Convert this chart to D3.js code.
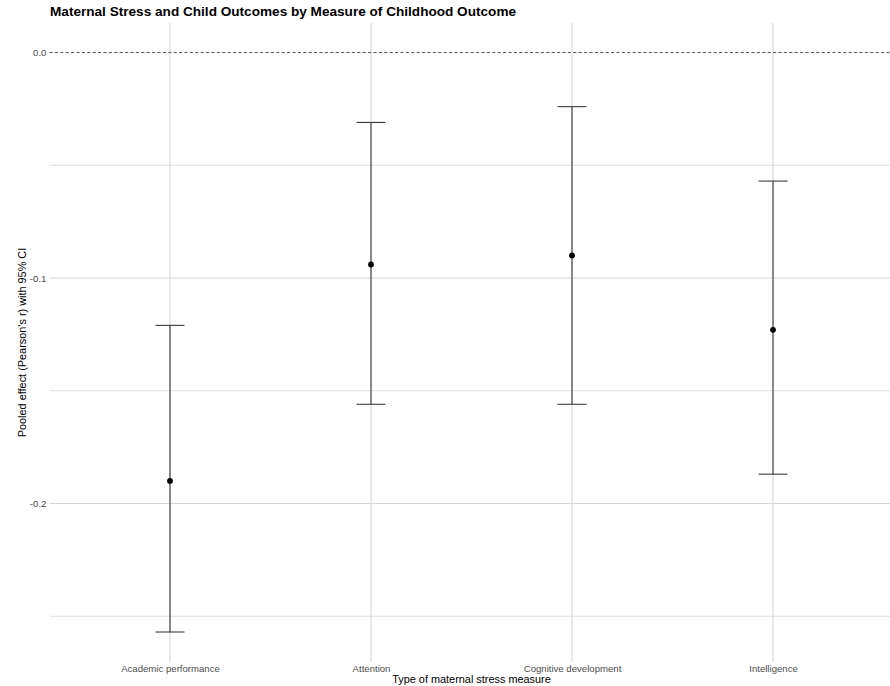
<!DOCTYPE html>
<html>
<head>
<meta charset="utf-8">
<script src="https://cdn.jsdelivr.net/npm/d3@7"></script>
<style>
  html, body { margin: 0; padding: 0; background: #fff; }
  svg { display: block; font-family: "Liberation Sans", Arial, Helvetica, sans-serif; }
</style>
</head>
<body>
<svg id="chart" width="890" height="686"></svg>
<script>
// Pooled correlations with 95% confidence intervals, one per outcome measure
const categories = ["Academic performance", "Attention", "Cognitive development", "Intelligence"];
const estimates  = [-0.190, -0.094, -0.090, -0.123];
const ciLower    = [-0.257, -0.156, -0.156, -0.187];
const ciUpper    = [-0.121, -0.031, -0.024, -0.057];
const majorTicks = [0, -0.1, -0.2];
const minorTicks = [-0.05, -0.15, -0.25];
const yDomain    = [-0.2703, 0.0131];

const rows = categories.map((c, i) => ({ cat: c, est: estimates[i], lo: ciLower[i], hi: ciUpper[i] }));

const svg = d3.select("#chart");
const panel = { left: 49.4, right: 893.6, top: 23, bottom: 662 };

const x = d3.scalePoint()
  .domain(categories)
  .range([panel.left, panel.right])
  .padding(0.6);

const y = d3.scaleLinear()
  .domain(yDomain)
  .range([panel.bottom, panel.top]);

// Grid
const grid = svg.append("g");
grid.selectAll("line.minor").data(minorTicks).join("line")
  .attr("class", "minor")
  .attr("x1", panel.left).attr("x2", 890)
  .attr("y1", d => y(d)).attr("y2", d => y(d))
  .attr("stroke", "#dedede").attr("stroke-width", 1.1);
grid.selectAll("line.major").data(majorTicks.filter(d => d !== 0)).join("line")
  .attr("class", "major")
  .attr("x1", panel.left).attr("x2", 890)
  .attr("y1", d => y(d)).attr("y2", d => y(d))
  .attr("stroke", "#d6d6d6").attr("stroke-width", 1.1);
grid.selectAll("line.vert").data(categories).join("line")
  .attr("class", "vert")
  .attr("x1", d => x(d)).attr("x2", d => x(d))
  .attr("y1", panel.top).attr("y2", panel.bottom)
  .attr("stroke", "#d6d6d6").attr("stroke-width", 1.1);

// Reference line at zero
svg.append("line")
  .attr("x1", panel.left).attr("x2", 890)
  .attr("y1", y(0)).attr("y2", y(0))
  .attr("stroke", "#444").attr("stroke-width", 0.9)
  .attr("stroke-dasharray", "3.2,2.2");

// Y axis labels
const yAxis = d3.axisLeft(y).tickValues(majorTicks).tickFormat(d3.format(".1f")).tickSize(0).tickPadding(3);
const gy = svg.append("g").attr("transform", `translate(${panel.left},0)`).call(yAxis);
gy.select(".domain").remove();
gy.selectAll("text").attr("fill", "#4d4d4d").style("font-size", "9.6px")
  .text(d => d3.format(".1f")(d).replace("−", "-"));

// X axis labels
const xAxis = d3.axisBottom(x).tickSize(0).tickPadding(3);
const gx = svg.append("g").attr("transform", `translate(0,${panel.bottom})`).call(xAxis);
gx.select(".domain").remove();
gx.selectAll("text").attr("fill", "#4d4d4d").style("font-size", "9.6px");

// Error bars
const capHalf = 14.5;
const bars = svg.append("g").selectAll("g").data(rows).join("g");
bars.append("line")
  .attr("x1", d => x(d.cat)).attr("x2", d => x(d.cat))
  .attr("y1", d => y(d.hi)).attr("y2", d => y(d.lo))
  .attr("stroke", "#3a3a3a").attr("stroke-width", 1.1);
bars.append("line")
  .attr("x1", d => x(d.cat) - capHalf).attr("x2", d => x(d.cat) + capHalf)
  .attr("y1", d => y(d.hi)).attr("y2", d => y(d.hi))
  .attr("stroke", "#3a3a3a").attr("stroke-width", 1.1);
bars.append("line")
  .attr("x1", d => x(d.cat) - capHalf).attr("x2", d => x(d.cat) + capHalf)
  .attr("y1", d => y(d.lo)).attr("y2", d => y(d.lo))
  .attr("stroke", "#3a3a3a").attr("stroke-width", 1.1);
bars.append("circle")
  .attr("cx", d => x(d.cat)).attr("cy", d => y(d.est))
  .attr("r", 2.9).attr("fill", "#000");

// Titles
svg.append("text")
  .attr("x", 50).attr("y", 16)
  .style("font-size", "13.6px").style("font-weight", "bold")
  .attr("fill", "#000")
  .text("Maternal Stress and Child Outcomes by Measure of Childhood Outcome");

svg.append("text")
  .attr("x", (panel.left + panel.right) / 2).attr("y", 683)
  .attr("text-anchor", "middle")
  .style("font-size", "10.9px").attr("fill", "#000")
  .text("Type of maternal stress measure");

svg.append("text")
  .attr("transform", `translate(25.5,${(panel.top + panel.bottom) / 2}) rotate(-90)`)
  .attr("text-anchor", "middle")
  .style("font-size", "10.9px").attr("fill", "#000")
  .text("Pooled effect (Pearson's r) with 95% CI");
</script>
</body>
</html>
